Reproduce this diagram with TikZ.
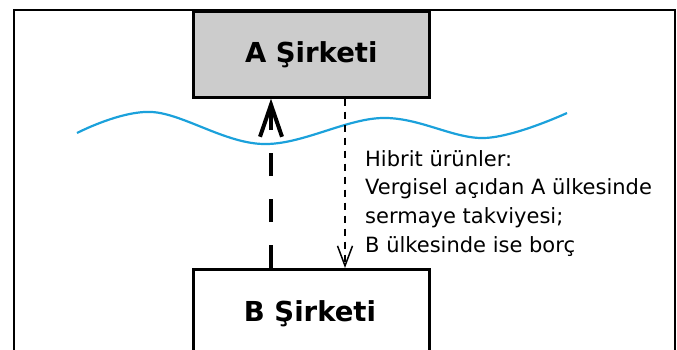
\documentclass[tikz,border=0pt]{standalone}
\usepackage{fontspec}
\setmainfont{DejaVu Sans}
\usetikzlibrary{arrows.meta,calc}
\definecolor{wave}{HTML}{1BA1DB}
\definecolor{boxgray}{HTML}{CCCCCC}
\tikzset{
  company/.style={draw=black, line width=2.6pt, minimum width=236pt, inner sep=0pt, font=\fontsize{27.5}{30}\selectfont\bfseries},
  thickline/.style={line width=3.6pt, dash pattern=on 23pt off 23pt},
  thickhead/.style={line width=3.6pt, -{Straight Barb[length=32pt,width=22pt,line width=4pt]}},
  thinarrow/.style={line width=1.5pt, dash pattern=on 7pt off 6pt, -{Straight Barb[length=20pt,width=15pt,line width=1.5pt]}},
  wavy/.style={draw=wave, line width=2.2pt},
  note/.style={anchor=north west, align=left, inner sep=0pt, font=\fontsize{21}{28.7}\selectfont}
}
\begin{document}
\begin{tikzpicture}[x=1pt,y=-1pt]
\useasboundingbox (0,0) rectangle (677,349);
\clip (0,0) rectangle (677,349);
\draw[line width=2.6pt] (14,360) -- (14,10) -- (675,10) -- (675,360);
\node[company, fill=boxgray, minimum height=86pt, anchor=north west] (A) at (192,10) {A Şirketi};
\node[company, fill=white, minimum height=92pt, anchor=north west] (B) at (192,268) {};
\node[font=\fontsize{27.5}{30}\selectfont\bfseries] (Bl) at (310,314) {B Şirketi};
\draw[wavy] plot[smooth, tension=0.6] coordinates {(77,133) (152,112) (263,144) (382,118) (484,138) (567,113)};
\coordinate (xa) at (271,0);
\coordinate (xb) at (345,0);
\draw[thickline] (B.north -| xa) -- (A.south -| xa);
\draw[thickhead] ($(A.south -| xa)+(0,25)$) -- (A.south -| xa);
\draw[thinarrow] (A.south -| xb) -- (B.north -| xb);
\node[note] (T) at (365,150) {Hibrit ürünler:\\Vergisel açıdan A ülkesinde\\sermaye takviyesi;\\B ülkesinde ise borç};
\end{tikzpicture}
\end{document}
